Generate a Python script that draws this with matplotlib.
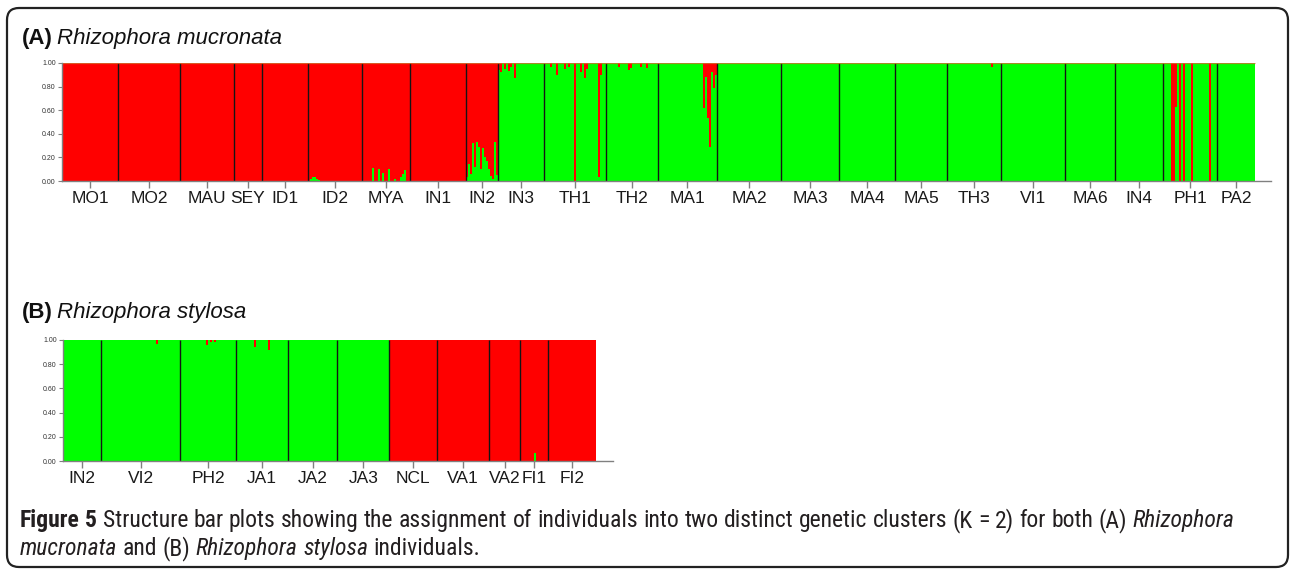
import matplotlib
matplotlib.use('Agg')
import matplotlib.pyplot as plt
import numpy as np
from matplotlib.patches import FancyBboxPatch
from matplotlib import font_manager as fm

# ---------------- data ----------------
pops_A = ['MO1', 'MO2', 'MAU', 'SEY', 'ID1', 'ID2', 'MYA', 'IN1', 'IN2', 'IN3',
          'TH1', 'TH2', 'MA1', 'MA2', 'MA3', 'MA4', 'MA5', 'TH3', 'VI1', 'MA6',
          'IN4', 'PH1', 'PA2']
sizes_A = [28, 31, 27, 14, 23, 27, 24, 28, 16, 23, 31, 26, 30, 32, 29, 28, 26,
           27, 32, 25, 24, 27, 19]
major_A = ['R'] * 9 + ['G'] * 14
# membership in the minor cluster for admixed individuals {pop: {individual: q}}
minor_A = {
    'ID2': {1: 0.02, 2: 0.03, 3: 0.03, 4: 0.02, 5: 0.01},
    'MYA': {5: 0.11, 8: 0.10, 10: 0.07, 13: 0.10, 16: 0.02, 19: 0.03, 20: 0.06, 21: 0.09},
    'IN2': {0: 0.03, 1: 0.14, 2: 0.06, 3: 0.32, 4: 0.12, 5: 0.33, 6: 0.29, 7: 0.10,
            8: 0.28, 9: 0.20, 10: 0.17, 11: 0.10, 12: 0.04, 13: 0.02, 14: 0.33, 15: 0.05},
    'IN3': {0: 0.06, 1: 0.08, 3: 0.05, 5: 0.07, 6: 0.03, 8: 0.13},
    'TH1': {3: 0.03, 6: 0.10, 10: 0.05, 12: 0.03, 15: 1.0, 18: 0.08, 20: 0.13,
            21: 0.05, 27: 0.97, 28: 0.10},
    'TH2': {6: 0.03, 11: 0.06, 12: 0.04, 17: 0.03, 20: 0.04},
    'MA1': {0: 0.19, 23: 0.38, 24: 0.12, 25: 0.47, 26: 0.71, 27: 0.08, 28: 0.21, 29: 0.10},
    'TH3': {22: 0.03},
    'PH1': {4: 1.0, 5: 1.0, 6: 0.37, 8: 1.0, 10: 1.0, 14: 1.0, 23: 1.0},
}

pops_B = ['IN2', 'VI2', 'PH2', 'JA1', 'JA2', 'JA3', 'NCL', 'VA1', 'VA2', 'FI1', 'FI2']
sizes_B = [19, 40, 28, 26, 25, 26, 24, 26, 16, 14, 24]
major_B = ['G'] * 6 + ['R'] * 5
minor_B = {
    'VI2': {28: 0.03},
    'PH2': {13: 0.04, 15: 0.02, 17: 0.02},
    'JA1': {9: 0.055, 16: 0.08},
    'FI1': {7: 0.07},
}

y_ticks = [0.0, 0.2, 0.4, 0.6, 0.8, 1.0]
y_tick_labels = ['0.00', '0.20', '0.40', '0.60', '0.80', '1.00']

title_A = ('(A)', 'Rhizophora mucronata')
title_B = ('(B)', 'Rhizophora stylosa')
caption_1 = [('Figure 5', 'bold', 'normal'),
             (' Structure bar plots showing the assignment of individuals into two distinct '
              'genetic clusters (K = 2) for both (A)', 'normal', 'normal'),
             (' Rhizophora', 'normal', 'italic')]
caption_2 = [('mucronata', 'normal', 'italic'),
             (' and (B)', 'normal', 'normal'),
             (' Rhizophora stylosa', 'normal', 'italic'),
             (' individuals.', 'normal', 'normal')]

# ---------------- style ----------------
RED = '#ff0000'
GREEN = '#00ff00'
W, H = 1292, 573
LAB_FONT = ['Liberation Sans', 'DejaVu Sans']

ttf = fm.fontManager.ttflist
names = {f.name for f in ttf}
narrow = ('condensed', 'semi-condensed', 'extra-condensed', 'ultra-condensed')


def has_cond(fam):
    return any(f.name == fam and f.stretch in narrow for f in ttf)


if 'Liberation Sans Narrow' in names:
    CAP_FONT, CAP_STRETCH = ['Liberation Sans Narrow', 'DejaVu Sans'], 'normal'
elif 'Roboto Condensed' in names:
    CAP_FONT, CAP_STRETCH = ['Roboto Condensed', 'DejaVu Sans'], 'normal'
elif has_cond('Noto Sans'):
    CAP_FONT, CAP_STRETCH = ['Noto Sans', 'DejaVu Sans'], 'semi-condensed'
elif has_cond('DejaVu Sans'):
    CAP_FONT, CAP_STRETCH = ['DejaVu Sans'], 'condensed'
elif has_cond('Open Sans'):
    CAP_FONT, CAP_STRETCH = ['Open Sans', 'DejaVu Sans'], 'condensed'
else:
    CAP_FONT, CAP_STRETCH = ['Roboto', 'DejaVu Sans'], 'normal'


def green_share(pops, sizes, major, minor):
    g = []
    for p, n, m in zip(pops, sizes, major):
        dev = minor.get(p, {})
        for i in range(n):
            q = dev.get(i, 0.0)
            g.append(q if m == 'R' else 1.0 - q)
    return np.array(g)


fig = plt.figure(figsize=(W / 100, H / 100), dpi=100)
fig.patch.set_facecolor('white')

bg = fig.add_axes([0, 0, 1, 1])
bg.set_xlim(0, W)
bg.set_ylim(H, 0)
bg.axis('off')
bg.patch.set_alpha(0)


def px_axes(left, top, right, bottom):
    return fig.add_axes([left / W, 1 - bottom / H, (right - left) / W, (bottom - top) / H])


def draw_panel(ax, g, pops, sizes, xmax, top_line=False):
    n = len(g)
    x = np.arange(n)
    ax.bar(x, g, width=1.0, align='edge', color=GREEN, linewidth=0, antialiased=False)
    ax.bar(x, 1 - g, bottom=g, width=1.0, align='edge', color=RED, linewidth=0,
           antialiased=False)
    edges = np.cumsum(sizes)
    ax.vlines(edges[:-1], 0, 1, colors='#151515', lw=1.0)
    if top_line:
        ax.hlines(1.0, 0, n, colors='#d07030', lw=0.9, alpha=0.8)
    centers = edges - np.array(sizes) / 2.0
    ax.set_xticks(centers)
    ax.set_xticklabels(pops, fontsize=12.5, family=LAB_FONT, color='#1a1a1a')
    ax.set_yticks(y_ticks)
    ax.set_yticklabels(y_tick_labels, fontsize=5.0, family=LAB_FONT, color='#333333')
    ax.set_xlim(0, xmax)
    ax.set_ylim(0, 1.0)
    for s in ['top', 'right']:
        ax.spines[s].set_visible(False)
    for s in ['left', 'bottom']:
        ax.spines[s].set_color('#808080')
        ax.spines[s].set_linewidth(1.0)
    ax.tick_params(axis='x', direction='out', length=5, width=1, color='#808080', pad=2)
    ax.tick_params(axis='y', direction='out', length=3, width=0.8, color='#808080', pad=1.5)


gA = green_share(pops_A, sizes_A, major_A, minor_A)
gB = green_share(pops_B, sizes_B, major_B, minor_B)

axA = px_axes(62, 63, 1271, 181)
draw_panel(axA, gA, pops_A, sizes_A, len(gA) * (1271 - 62) / (1255 - 62), top_line=True)
axB = px_axes(63, 340, 613, 461)
draw_panel(axB, gB, pops_B, sizes_B, len(gB) * (613 - 63) / (596 - 63))

renderer = fig.canvas.get_renderer()


def text_w(t):
    return t.get_window_extent(renderer).width


def place_runs(runs, x0, y, size, family, stretch, color):
    made = []
    x = x0
    for text, weight, style in runs:
        kw = dict(fontsize=size, family=family, fontweight=weight, fontstyle=style,
                  fontstretch=stretch, color=color, va='baseline', ha='left')
        a = bg.text(0, 0, 'aa', **kw)
        b = bg.text(0, 0, 'a a', **kw)
        sp = text_w(b) - text_w(a)
        a.remove()
        b.remove()
        parts = text.split(' ')
        for i, p in enumerate(parts):
            if i > 0:
                x += sp
            if p:
                t = bg.text(x, y, p, **kw)
                made.append(t)
                x += text_w(t)
    return made, x - x0


def place_title(title, x0, y):
    t1 = bg.text(x0, y, title[0], fontsize=16, fontweight='bold', family=LAB_FONT,
                 va='baseline', ha='left', color='#111111')
    w = text_w(t1)
    bg.text(x0 + w + 4, y, title[1], fontsize=16, fontstyle='italic', family=LAB_FONT,
            va='baseline', ha='left', color='#111111')


place_title(title_A, 22, 44)
place_title(title_B, 22, 318)

# caption: fit first line to the reference width
made, w1 = place_runs(caption_1, 20, 526, 14, CAP_FONT, CAP_STRETCH, '#231f20')
for t in made:
    t.remove()
size = 14 * 1223.0 / w1
place_runs(caption_1, 20, 527, size, CAP_FONT, CAP_STRETCH, '#231f20')
place_runs(caption_2, 20, 555, size, CAP_FONT, CAP_STRETCH, '#231f20')

# rounded frame
frame = FancyBboxPatch((7, 8), 1281, 559, boxstyle='round,pad=0,rounding_size=12',
                       fill=False, ec='#222222', lw=1.6, transform=bg.transData,
                       clip_on=False)
bg.add_patch(frame)

fig.savefig('out.png', dpi=100, facecolor='white')
